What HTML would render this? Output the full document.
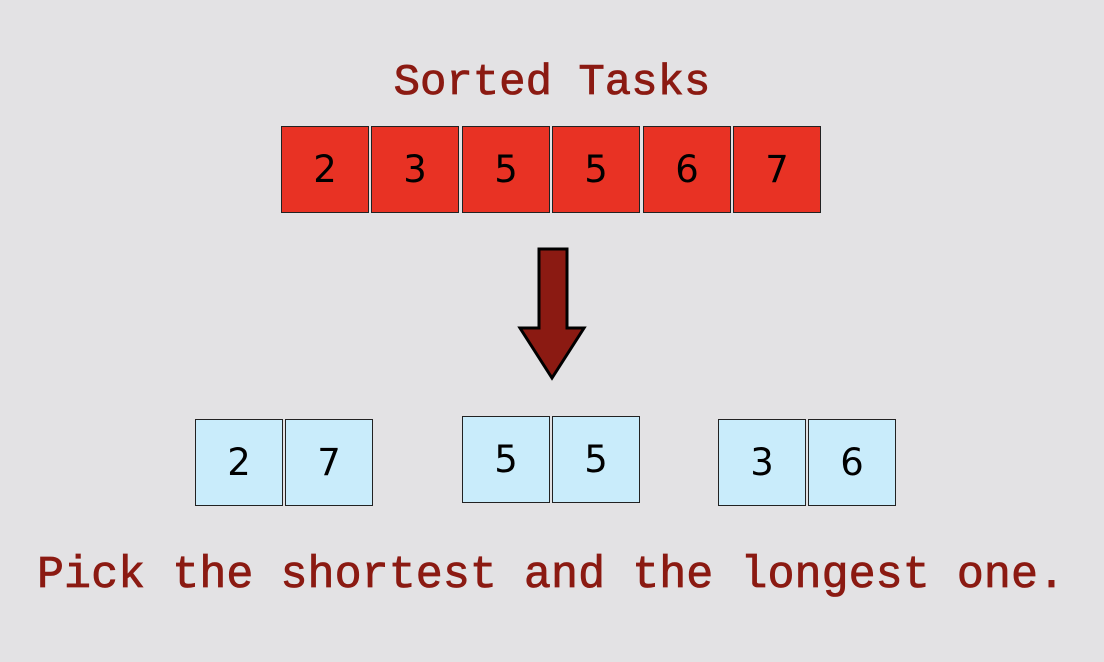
<!DOCTYPE html>
<html><head><meta charset="utf-8"><style>
body{margin:0;width:1104px;height:662px;background:#e3e2e4;overflow:hidden;position:relative;font-family:"DejaVu Sans",sans-serif}
.t{position:absolute;font-family:"Liberation Mono",monospace;font-weight:normal;color:#8b1a12;white-space:nowrap;-webkit-text-stroke:0.8px #8b1a12}
.box{position:absolute;width:86px;height:85px;border:1px solid #222;box-sizing:content-box;display:flex;align-items:center;justify-content:center;font-size:37px;color:#000}
.red{background:#e83224}.blue{background:#c9ecfb}
</style></head><body>
<div class="t" style="left:0;width:1104px;text-align:center;top:58px;font-size:44px">Sorted Tasks</div>
<svg style="position:absolute;left:0;top:0" width="1104" height="662"><polygon points="539,249 567,249 567,328 584,328 552,378 520,328 539,328" fill="#8b1a12" stroke="#000" stroke-width="3" stroke-linejoin="miter"/></svg>
<div class="t" style="left:37px;top:550px;font-size:45px;letter-spacing:0.05px">Pick the shortest and the longest one.</div>
<script>
const sorted=[2,3,5,5,6,7];
const pairs=[[2,7],[5,5],[3,6]];
const sortedX=[281,371,462,552,643,733];
const pairX=[[195,285],[462,552],[718,808]];
const pairY=[419,416,419];
sorted.forEach((v,i)=>{const d=document.createElement('div');d.className='box red';d.style.left=sortedX[i]+'px';d.style.top='126px';d.textContent=v;


document.body.appendChild(d);});
pairs.forEach((p,j)=>p.forEach((v,k)=>{const d=document.createElement('div');d.className='box blue';d.style.left=pairX[j][k]+'px';d.style.top=pairY[j]+'px';d.textContent=v;


document.body.appendChild(d);}));
</script>
</body></html>
